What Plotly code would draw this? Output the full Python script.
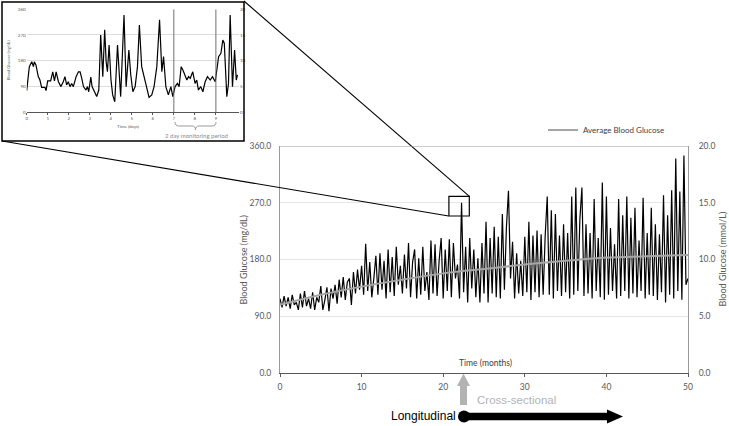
import numpy as np
import plotly.graph_objects as go

W, H = 729, 426

# ---------------- data ----------------
months = np.arange(0, 50.01, 0.25)
glucose_mgdl = [
    118, 104, 122, 106, 120, 102, 124, 108, 112, 100, 126, 104, 130, 106, 118, 102,
    128, 100, 120, 112, 138, 100, 116, 136, 98, 134, 118, 140, 110, 148, 120, 152,
    116, 144, 150, 108, 160, 126, 164, 132, 170, 124, 205, 130, 176, 120, 150, 186,
    124, 190, 132, 178, 118, 196, 128, 184, 122, 200, 140, 170, 126, 188, 134, 206,
    120, 176, 196, 118, 182, 124, 200, 130, 160, 116, 210, 126, 204, 122, 178, 214,
    118, 196, 130, 212, 120, 206, 150, 172, 118, 270, 128, 200, 112, 214, 134, 196,
    120, 182, 112, 206, 126, 240, 112, 214, 126, 232, 120, 216, 118, 252, 132, 232,
    289, 150, 208, 118, 190, 126, 178, 122, 216, 128, 240, 116, 218, 128, 226, 120,
    220, 124, 218, 280, 124, 258, 118, 252, 130, 218, 122, 236, 128, 222, 118, 280,
    124, 294, 130, 244, 294, 122, 236, 126, 222, 118, 276, 130, 214, 120, 302, 116,
    280, 124, 230, 130, 204, 118, 276, 122, 250, 130, 280, 118, 246, 126, 262, 120,
    210, 130, 278, 118, 222, 124, 262, 122, 236, 116, 220, 128, 282, 112, 250, 124,
    290, 118, 340, 130, 288, 116, 345, 140, 150,
]
avg_months = [0, 5, 10, 15, 20, 25, 30, 35, 40, 45, 50]
avg_mgdl = [108, 124, 137, 148, 158, 165, 172, 178, 183, 185, 187]

inset_days = [
    0.00, 0.125, 0.24, 0.32, 0.36, 0.44, 0.55, 0.63, 0.71, 0.87, 0.92, 1.00, 1.14, 1.24,
    1.32, 1.40, 1.51, 1.63, 1.74, 1.82, 1.90, 1.98, 2.06, 2.14, 2.22, 2.35, 2.46, 2.54,
    2.62, 2.70, 2.82, 2.89, 2.95, 3.05, 3.11, 3.20, 3.33, 3.43, 3.52, 3.62, 3.71, 3.78,
    3.84, 3.92, 4.01, 4.09, 4.19, 4.32, 4.41, 4.47, 4.63, 4.73, 4.86, 4.95, 5.05, 5.16,
    5.27, 5.36, 5.47, 5.59, 5.71, 5.82, 5.95, 6.06, 6.19, 6.32, 6.43, 6.51, 6.62, 6.74,
    6.86, 6.95, 7.06, 7.17, 7.25, 7.35, 7.43, 7.54, 7.62, 7.70, 7.78, 7.90, 8.01, 8.09,
    8.17, 8.28, 8.38, 8.49, 8.60, 8.73, 8.84, 8.97, 9.05, 9.13, 9.24, 9.33, 9.40, 9.52,
    9.60, 9.68, 9.79, 9.89, 9.97, 10.03,
]
inset_mgdl = [
    75, 159, 176, 159, 176, 165, 124, 112, 86, 86, 75, 109, 109, 141,
    109, 141, 106, 89, 106, 124, 95, 106, 89, 100, 89, 124, 141, 141,
    118, 89, 77, 89, 71, 122, 89, 75, 54, 77, 270, 124, 288, 176,
    141, 235, 112, 60, 36, 235, 100, 54, 340, 89, 217, 130, 71, 89,
    159, 305, 159, 124, 89, 51, 60, 89, 159, 323, 141, 194, 89, 60,
    89, 54, 89, 100, 89, 159, 147, 124, 112, 124, 118, 141, 100, 112,
    77, 89, 71, 106, 124, 112, 124, 106, 159, 194, 206, 252, 241, 54,
    100, 340, 89, 217, 112, 130,
]

main_mgdl_ticks = [0, 90, 180, 270, 360]
main_mmol_ticks = [0, 5, 10, 15, 20]
month_ticks = [0, 10, 20, 30, 40, 50]
day_ticks = [0, 1, 2, 3, 4, 5, 6, 7, 8, 9]


def px(x):
    return x / W


def py(y):
    return 1 - y / H


def path(points):
    s = "M " + " L ".join(f"{px(x):.5f},{py(y):.5f}" for x, y in points) + " Z"
    return s


fig = go.Figure()

fig.add_trace(go.Scatter(x=months, y=glucose_mgdl, mode="lines",
                         line=dict(color="black", width=1.2),
                         showlegend=False, xaxis="x", yaxis="y"))
fig.add_trace(go.Scatter(x=avg_months, y=avg_mgdl, mode="lines",
                         line=dict(color="#a6a6a6", width=2, shape="spline"),
                         name="Average Blood Glucose", xaxis="x", yaxis="y"))
fig.add_trace(go.Scatter(x=[None], y=[None], xaxis="x", yaxis="y3", showlegend=False))
fig.add_trace(go.Scatter(x=inset_days, y=inset_mgdl, mode="lines",
                         line=dict(color="black", width=1.2),
                         showlegend=False, xaxis="x2", yaxis="y2"))
fig.add_trace(go.Scatter(x=[None], y=[None], xaxis="x2", yaxis="y4", showlegend=False))

tickc = "#595959"
fig.update_layout(
    width=W, height=H, margin=dict(l=0, r=0, t=0, b=0),
    paper_bgcolor="white", plot_bgcolor="white",
    font=dict(family="Lato", color=tickc),
    showlegend=True,
    legend=dict(x=px(543), y=py(130), xanchor="left", yanchor="middle",
                bgcolor="rgba(0,0,0,0)", font=dict(size=8, color="#404040"),
                itemwidth=30),
    xaxis=dict(domain=[px(280), px(688)], range=[0, 50], anchor="y",
               tickvals=month_ticks, showline=True, linecolor="#595959", linewidth=1.3,
               ticks="outside", ticklen=3, tickcolor="#595959", showgrid=False,
               zeroline=False, tickfont=dict(size=8.5, color=tickc), ticklabelstandoff=3,
               automargin=False),
    yaxis=dict(domain=[py(373), py(146)], range=[0, 360], anchor="x",
               tickvals=main_mgdl_ticks, ticktext=[f"{v:.1f}" for v in main_mgdl_ticks],
               showgrid=True, gridcolor="#e6e6e6", showline=True, linecolor="#9a9a9a",
               zeroline=False, ticks="", tickfont=dict(size=8.5, color=tickc),
               ticklabelstandoff=6, automargin=False),
    yaxis3=dict(overlaying="y", side="right", anchor="x", range=[0, 20],
                tickvals=main_mmol_ticks, ticktext=[f"{v:.1f}" for v in main_mmol_ticks],
                showgrid=False, showline=True, linecolor="#9a9a9a", zeroline=False,
                ticks="", tickfont=dict(size=8.5, color=tickc), ticklabelstandoff=8,
                automargin=False),
    xaxis2=dict(domain=[px(26.7), px(239)], range=[0, 10.1], anchor="y2",
                tickvals=day_ticks, showline=True, linecolor="#555555", linewidth=1,
                ticks="outside", ticklen=2, tickcolor="#555555", showgrid=False,
                zeroline=False, tickfont=dict(size=4.5, color=tickc), automargin=False),
    yaxis2=dict(domain=[py(112), py(9.3)], range=[0, 360], anchor="x2",
                tickvals=main_mgdl_ticks, showgrid=True, gridcolor="#dcdcdc",
                zeroline=False, showline=False, ticks="",
                tickfont=dict(size=4.5, color=tickc), automargin=False),
    yaxis4=dict(overlaying="y2", side="right", anchor="x2", range=[0, 20],
                tickvals=main_mmol_ticks, showgrid=False, zeroline=False, ticks="",
                tickfont=dict(size=4.5, color=tickc), automargin=False),
)

shapes = [
    dict(type="rect", xref="paper", yref="paper", x0=px(2), x1=px(244), y0=py(141), y1=py(2),
         line=dict(color="black", width=1.5)),
    dict(type="rect", xref="x", yref="y", x0=20.7, x1=23.2, y0=249, y1=280,
         line=dict(color="black", width=1.2)),
    dict(type="line", xref="paper", yref="paper", x0=px(244), y0=py(1), x1=px(469.7), y1=py(196.7),
         line=dict(color="black", width=1.1)),
    dict(type="line", xref="paper", yref="paper", x0=px(2), y0=py(141), x1=px(448.7), y1=py(216),
         line=dict(color="black", width=1.1)),
    dict(type="line", xref="x", yref="y", x0=0, x1=50, y0=360, y1=360,
         line=dict(color="#9a9a9a", width=1)),
    dict(type="line", xref="x2", yref="y2", x0=7, x1=7, y0=0, y1=360,
         line=dict(color="#707070", width=1)),
    dict(type="line", xref="x2", yref="y2", x0=9, x1=9, y0=0, y1=360,
         line=dict(color="#707070", width=1)),
    dict(type="path", xref="paper", yref="paper",
         path=(f"M {px(175):.5f},{py(122):.5f} Q {px(175):.5f},{py(126):.5f} {px(179):.5f},{py(126):.5f} "
               f"L {px(192):.5f},{py(126):.5f} Q {px(195.5):.5f},{py(126):.5f} {px(195.5):.5f},{py(130):.5f} "
               f"Q {px(195.5):.5f},{py(126):.5f} {px(199):.5f},{py(126):.5f} "
               f"L {px(212):.5f},{py(126):.5f} Q {px(216):.5f},{py(126):.5f} {px(216):.5f},{py(122):.5f}"),
         line=dict(color="#9a9a9a", width=1)),
    dict(type="path", xref="paper", yref="paper",
         path=path([(460, 405), (460, 386), (457, 386), (463.5, 373.5), (470, 386), (467, 386), (467, 405)]),
         fillcolor="#b3b3b3", line=dict(width=0)),
    dict(type="path", xref="paper", yref="paper",
         path=path([(464, 412.8), (607, 412.8), (607, 409.5), (623, 416.5), (607, 423.5), (607, 420.2), (464, 420.2)]),
         fillcolor="black", line=dict(width=0)),
    dict(type="circle", xref="paper", yref="paper", x0=px(458), x1=px(470), y0=py(422.5), y1=py(410.5),
         fillcolor="black", line=dict(width=0)),
]
fig.update_layout(shapes=shapes)

ann = [
    dict(text="Time (months)", x=px(485), y=py(363), font=dict(size=8.5, color="#404040")),
    dict(text="Blood Glucose (mg/dL)", x=px(242.5), y=py(260), textangle=-90,
         font=dict(size=9, color=tickc)),
    dict(text="Blood Glucose (mmol/L)", x=px(721.5), y=py(259), textangle=-90,
         font=dict(size=9, color=tickc)),
    dict(text="Time (days)", x=px(128), y=py(126), font=dict(size=4.5, color=tickc)),
    dict(text="Blood Glucose (mg/dL)", x=px(8), y=py(60), textangle=-90,
         font=dict(size=4, color=tickc)),
    dict(text="2 day monitoring period", x=px(196), y=py(135.5),
         font=dict(size=6, color="#8c8c8c")),
    dict(text="Cross-sectional", x=px(475), y=py(400), xanchor="left",
         font=dict(family="Liberation Sans", size=11.5, color="#b3b3b3")),
    dict(text="Longitudinal", x=px(457.5), y=py(416), xanchor="right",
         font=dict(family="Liberation Sans", size=12, color="black")),
]
for a in ann:
    a.setdefault("xanchor", "center")
    a.update(xref="paper", yref="paper", yanchor="middle", showarrow=False)
fig.update_layout(annotations=ann)

fig.write_html("out.html", config={"responsive": False, "displayModeBar": False},
               post_script="document.body.style.margin='0px';document.body.style.overflow='hidden';")
